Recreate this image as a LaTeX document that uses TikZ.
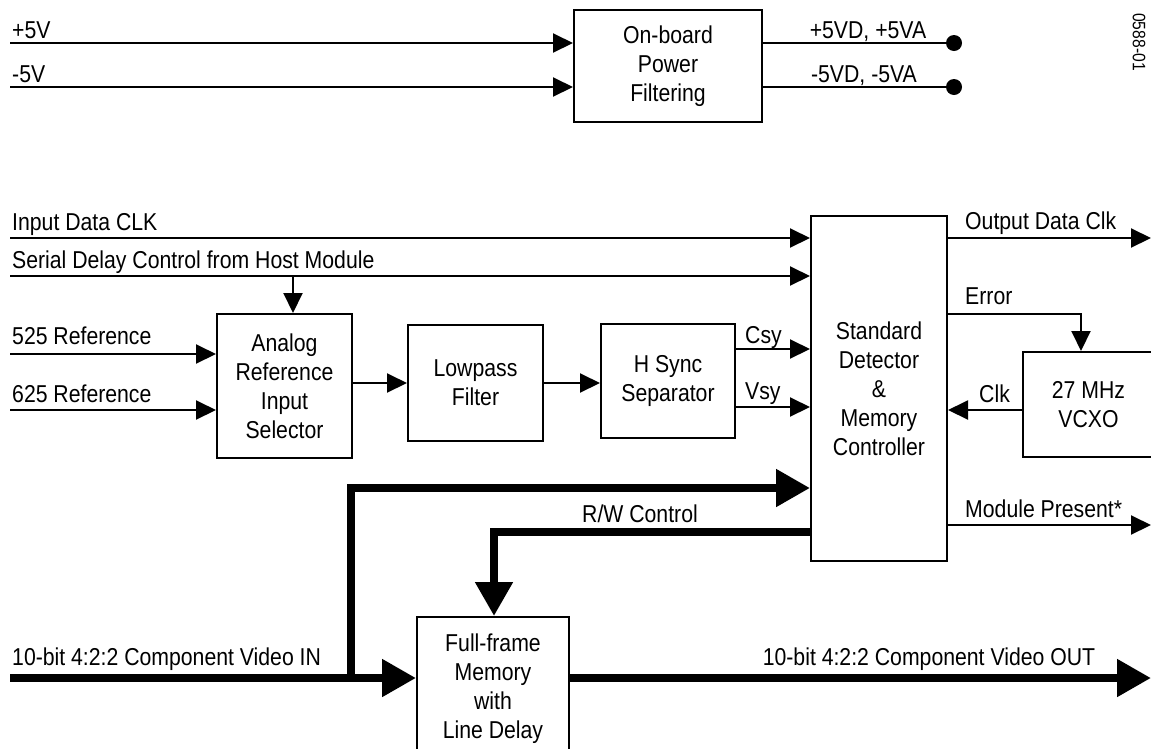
\documentclass[tikz,border=0pt]{standalone}
\usepackage{fontspec}
\setmainfont[FakeStretch=0.87]{Liberation Sans}
\usetikzlibrary{arrows.meta,positioning,calc}

\tikzset{
  blk/.style={draw, line width=2pt, align=center, inner sep=0pt},
  sig/.style={line width=2pt, -{Triangle[length=20pt,width=19pt]}},
  bus/.style={line width=8pt, line join=miter, -{Triangle[length=34pt,width=36pt]}},
  lbl/.style={anchor=base west, inner sep=0pt},
  dot/.style={circle, fill, inner sep=0pt, minimum size=16pt},
}

\begin{document}
\begin{tikzpicture}[x=1pt, y=-1pt, font=\fontsize{24.4}{29}\selectfont]
\useasboundingbox (0,0) rectangle (1151,748);

% power filtering
\node[blk, minimum width=188pt, minimum height=112pt] (pwr) at (668,66) {On-board\\Power\\Filtering};
\coordinate (pin) at (10,43);
\coordinate (nin) at (10,87);
\node[dot] (pout) at (954,43) {};
\node[dot] (nout) at (954,87) {};
\draw[sig] (pin) -- (pin -| pwr.west);
\draw[sig] (nin) -- (nin -| pwr.west);
\draw[line width=2pt] (pout -| pwr.east) -- (pout);
\draw[line width=2pt] (nout -| pwr.east) -- (nout);
\node[lbl] (tpin) at (12,38) {+5V};
\node[lbl] (tnin) at (12,82) {-5V};
\node[anchor=base, inner sep=0pt] (tpout) at (868,38) {+5VD, +5VA};
\node[anchor=base, inner sep=0pt] (tnout) at (864,82) {-5VD, -5VA};
\node[rotate=-90, inner sep=0pt, font=\fontsize{18}{20}\selectfont] (fig) at (1139,42) {0588-01};

% blocks
\node[blk, minimum width=136pt, minimum height=345pt] (sdc) at (879,388.5) {Standard\\Detector\\\&\\Memory\\Controller};
\node[blk, minimum width=135pt, minimum height=144pt] (ars) at (284.5,386) {Analog\\Reference\\Input\\Selector};
\node[blk, minimum width=135pt, minimum height=116pt] (lpf) at (475.5,383) {Lowpass\\Filter};
\node[blk, minimum width=134pt, minimum height=114pt] (hss) at (668,381) {H Sync\\Separator};
\node[blk, minimum width=131pt, minimum height=105pt] (vcxo) at (1088.5,404.5) {27 MHz\\VCXO};
\node[blk, minimum width=152pt, minimum height=143pt] (ffm) at (493,688.5) {Full-frame\\Memory\\with\\Line Delay};

% inputs
\coordinate (clkin) at (10,238);
\coordinate (serin) at (10,276);
\coordinate (serdrop) at (293,276);
\coordinate (ref5) at (10,354);
\coordinate (ref6) at (10,410);
\draw[sig] (clkin) -- (clkin -| sdc.west);
\draw[sig] (serin) -- (serin -| sdc.west);
\draw[sig] (serdrop) -- (serdrop |- ars.north);
\draw[sig] (ref5) -- (ref5 -| ars.west);
\draw[sig] (ref6) -- (ref6 -| ars.west);
\node[lbl] (tclkin) at (12,230) {Input Data CLK};
\node[lbl] (tserin) at (12,268) {Serial Delay Control from Host Module};
\node[lbl] (tref5) at (12,344) {525 Reference};
\node[lbl] (tref6) at (12,402) {625 Reference};

% chain
\draw[sig] (ars.east |- 0,383) -- (lpf.west |- 0,383);
\draw[sig] (lpf.east |- 0,383) -- (hss.west |- 0,383);
\coordinate (csy) at (hss.east |- 0,349);
\coordinate (vsy) at (hss.east |- 0,407);
\draw[sig] (csy) -- (csy -| sdc.west);
\draw[sig] (vsy) -- (vsy -| sdc.west);
\node[lbl] (tcsy) at (745,343) {Csy};
\node[lbl] (tvsy) at (745,399) {Vsy};

% outputs of controller
\coordinate (clkout) at (1151,238);
\coordinate (errdrop) at (1081,314);
\coordinate (modout) at (1151,525);
\draw[sig] (clkout -| sdc.east) -- (clkout);
\draw[sig] (errdrop -| sdc.east) -- (errdrop) -- (errdrop |- vcxo.north);
\draw[sig] (vcxo.west |- 0,410) -- (sdc.east |- 0,410);
\draw[sig] (modout -| sdc.east) -- (modout);
\node[lbl] (tclkout) at (965,229) {Output Data Clk};
\node[lbl] (terr) at (965,304) {Error};
\node[lbl] (tclk) at (979,402) {Clk};
\node[lbl] (tmod) at (965,517) {Module Present*};

% video path
\coordinate (vin) at (10,678);
\coordinate (tap) at (351,678);
\coordinate (tapup) at (351,488);
\coordinate (rwc) at (494,532);
\coordinate (vout) at (1151,678);
\draw[bus] (vin) -- (vin -| ffm.west);
\draw[bus] (tap) -- (tapup) -- (tapup -| sdc.west);
\draw[bus] (rwc -| sdc.west) -- (rwc) -- (rwc |- ffm.north);
\draw[bus] (vout -| ffm.east) -- (vout);
\node[lbl] (tvin) at (12,665) {10-bit 4:2:2 Component Video IN};
\node[anchor=base, inner sep=0pt] (tvout) at (929,665) {10-bit 4:2:2 Component Video OUT};
\node[anchor=base, inner sep=0pt] (trw) at (640,522) {R/W Control};
\end{tikzpicture}
\end{document}
